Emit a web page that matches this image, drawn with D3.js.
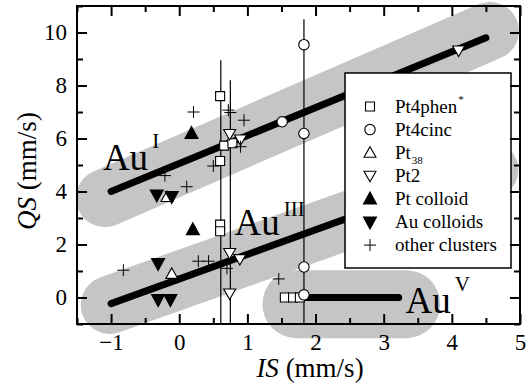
<!DOCTYPE html>
<html>
<head>
<meta charset="utf-8">
<script src="https://cdn.jsdelivr.net/npm/d3@7"></script>
<style>
  body { margin: 0; background: #fff; }
  svg { display: block; }
</style>
</head>
<body>
<div id="chart"></div>
<script>
const width = 532;
const height = 390;

// data, [IS, QS]
const pt4phen = [[0.6, 7.6], [0.66, 5.73], [0.78, 5.82], [0.6, 5.15], [0.6, 2.75], [0.6, 2.5],
                 [1.55, 0], [1.67, 0], [1.77, 0]];
const pt4cinc = [[1.83, 9.54], [1.51, 6.63], [1.83, 6.19], [1.83, 1.15], [1.83, 0.1]];
const pt38 = [[-0.18, 3.79], [-0.11, 0.89]];
const pt2 = [[0.74, 6.17], [0.9, 5.96], [4.1, 9.32], [0.74, 1.68], [0.89, 1.45], [0.74, 0.15]];
const ptColloid = [[0.18, 6.19], [0.2, 2.56]];
const auColloids = [[-0.33, 3.87], [-0.11, 3.81], [-0.31, 1.28], [-0.31, -0.08], [-0.13, -0.08]];
const otherClusters = [[0.21, 7.0], [0.72, 7.07], [0.75, 6.98], [0.95, 6.69], [0.9, 5.69], [0.5, 4.96],
                       [-0.21, 4.6], [0.11, 4.18], [-0.82, 1.03], [0.28, 1.37], [0.43, 1.37],
                       [0.7, 1.1], [1.46, 0.7]];

// vertical range bars: IS, top QS
const rangeBars = [[0.61, 8.95], [0.75, 8.2], [1.83, 10.5]];

// oxidation state trend lines and their shaded bands
const trendLines = [
  { name: "I",   pts: [[-1, 4], [4.5, 9.8]] },
  { name: "III", pts: [[-1, -0.23], [4.5, 4.88]] },
  { name: "V",   pts: [[1.87, 0], [3.22, 0]] }
];
const bands = [
  { pts: [[-1.09, 3.75], [4.56, 10.06]], w: 58 },
  { pts: [[-1.02, -0.28], [4.55, 4.81]], w: 58 },
  { pts: [[1.72, -0.25], [3.33, -0.25]], w: 68 }
];
const auLabels = [
  { sup: "I",   at: [-1.12, 4.81], dy: -22 },
  { sup: "III", at: [0.81, 2.36], dy: -19 },
  { sup: "V",   at: [3.32, -0.57], dy: -22 }
];

const xTicks = [-1, 0, 1, 2, 3, 4, 5];
const xMinor = [-1.5, -0.5, 0.5, 1.5, 2.5, 3.5, 4.5];
const yTicks = [0, 2, 4, 6, 8, 10];
const yMinor = [-1, 1, 3, 5, 7, 9, 11];

const legendItems = [
  { label: "Pt4phen", sym: "square", sup: "*" },
  { label: "Pt4cinc", sym: "circle" },
  { label: "Pt", sym: "up", sub: "38" },
  { label: "Pt2", sym: "down" },
  { label: "Pt colloid", sym: "upFill" },
  { label: "Au colloids", sym: "downFill" },
  { label: "other clusters", sym: "plus" }
];

const serif = "Liberation Serif";
const plotL = 77, plotR = 520, plotT = 6, plotB = 324;
const x = d3.scaleLinear().domain([-1.5, 5]).range([plotL, plotR]);
const y = d3.scaleLinear().domain([-1, 11]).range([plotB, plotT]);

const svg = d3.select("#chart").append("svg")
  .attr("width", width)
  .attr("height", height)
  .attr("font-family", serif);

const gray = "#c5c5c5";

// bands
svg.append("g").selectAll("line")
  .data(bands)
  .join("line")
  .attr("x1", d => x(d.pts[0][0])).attr("y1", d => y(d.pts[0][1]))
  .attr("x2", d => x(d.pts[1][0])).attr("y2", d => y(d.pts[1][1]))
  .attr("stroke", gray)
  .attr("stroke-width", d => d.w)
  .attr("stroke-linecap", "round");

// range bars
svg.append("g").selectAll("line")
  .data(rangeBars)
  .join("line")
  .attr("x1", d => x(d[0])).attr("x2", d => x(d[0]))
  .attr("y1", d => y(d[1])).attr("y2", plotB)
  .attr("stroke", "#000")
  .attr("stroke-width", 1.2);

// trend lines
svg.append("g").selectAll("line")
  .data(trendLines)
  .join("line")
  .attr("x1", d => x(d.pts[0][0])).attr("y1", d => y(d.pts[0][1]))
  .attr("x2", d => x(d.pts[1][0])).attr("y2", d => y(d.pts[1][1]))
  .attr("stroke", "#000")
  .attr("stroke-width", 7)
  .attr("stroke-linecap", "round");

// marker shapes
const shapes = {
  square: "M-4.5,-4.5H4.5V4.5H-4.5Z",
  circle: d3.symbol(d3.symbolCircle, 85)(),
  up: "M0,-6L6,4.5L-6,4.5Z",
  down: "M0,6L6,-4.5L-6,-4.5Z",
  upFill: "M0,-7L6.5,5L-6.5,5Z",
  downFill: "M0,7L6.5,-5L-6.5,-5Z",
  plus: "M-6,0H6M0,-6V6"
};
function styleShape(sel, sym) {
  sel.attr("d", shapes[sym])
    .attr("fill", sym.endsWith("Fill") ? "#000" : (sym === "plus" ? "none" : "#fff"))
    .attr("stroke", "#000")
    .attr("stroke-width", sym === "plus" ? 1 : 1.1);
}

const series = [
  [pt4phen, "square"], [pt4cinc, "circle"], [pt38, "up"], [pt2, "down"],
  [ptColloid, "upFill"], [auColloids, "downFill"], [otherClusters, "plus"]
];
const marks = svg.append("g");
series.forEach(([data, sym]) => {
  marks.append("g").selectAll("path")
    .data(data)
    .join("path")
    .attr("transform", d => `translate(${x(d[0])},${y(d[1])})`)
    .call(styleShape, sym);
});

// Au labels
const au = svg.append("g").attr("fill", "#000");
auLabels.forEach(l => {
  const t = au.append("text")
    .attr("font-family", serif)
    .attr("x", x(l.at[0]))
    .attr("y", y(l.at[1]))
    .attr("font-size", 37)
    .text("Au");
  t.append("tspan")
    .attr("dx", 4)
    .attr("dy", l.dy)
    .attr("font-size", 21)
    .text(l.sup);
});

// legend
const lg = svg.append("g");
lg.append("rect")
  .attr("x", 345).attr("y", 73)
  .attr("width", 166).attr("height", 195)
  .attr("fill", "#fff")
  .attr("stroke", "#000")
  .attr("stroke-width", 1.5);
legendItems.forEach((it, i) => {
  const cy = 106.5 + i * 23.1;
  lg.append("path")
    .attr("transform", `translate(370,${cy})`)
    .call(styleShape, it.sym);
  const t = lg.append("text")
    .attr("font-family", serif)
    .attr("x", 395)
    .attr("y", cy + 6)
    .attr("font-size", 19)
    .text(it.label);
  if (it.sup) t.append("tspan").attr("dx", 1).attr("dy", -10).attr("font-size", 11).text(it.sup);
  if (it.sub) t.append("tspan").attr("dx", 1).attr("dy", 5).attr("font-size", 11).text(it.sub);
});

// axes: inward ticks on all four sides
function tickAxis(axisFn, scale, ticks, size, labels) {
  return axisFn(scale)
    .tickValues(ticks)
    .tickSizeInner(-size)
    .tickSizeOuter(0)
    .tickPadding(10)
    .tickFormat(labels ? d3.format("d") : "");
}
const axes = svg.append("g");
[[d3.axisBottom, x, `translate(0,${plotB})`, xTicks, xMinor, true],
 [d3.axisTop, x, `translate(0,${plotT})`, xTicks, xMinor, false],
 [d3.axisLeft, y, `translate(${plotL},0)`, yTicks, yMinor, true],
 [d3.axisRight, y, `translate(${plotR},0)`, yTicks, yMinor, false]
].forEach(([fn, sc, tr, major, minor, labels]) => {
  const g1 = axes.append("g").attr("transform", tr).call(tickAxis(fn, sc, major, 10, labels));
  const g2 = axes.append("g").attr("transform", tr).call(tickAxis(fn, sc, minor, 6, false));
  [g1, g2].forEach(g => {
    g.select(".domain").remove();
    g.attr("font-family", serif);
    g.selectAll("line").attr("stroke-width", 2);
    g.selectAll("text")
      .attr("font-family", serif)
      .attr("font-size", 23)
      .attr("fill", "#000");
  });
});

axes.append("rect")
  .attr("x", plotL).attr("y", plotT)
  .attr("width", plotR - plotL).attr("height", plotB - plotT)
  .attr("fill", "none")
  .attr("stroke", "#000")
  .attr("stroke-width", 2);

// axis titles
const xt = svg.append("text")
  .attr("font-family", serif)
  .attr("x", 310).attr("y", 377)
  .attr("text-anchor", "middle")
  .attr("font-size", 27);
xt.append("tspan").attr("font-style", "italic").text("IS");
xt.append("tspan").text(" (mm/s)");

const yt = svg.append("text")
  .attr("font-family", serif)
  .attr("transform", "translate(36,171) rotate(-90)")
  .attr("text-anchor", "middle")
  .attr("font-size", 27);
yt.append("tspan").attr("font-style", "italic").text("QS");
yt.append("tspan").text(" (mm/s)");
</script>
</body>
</html>
